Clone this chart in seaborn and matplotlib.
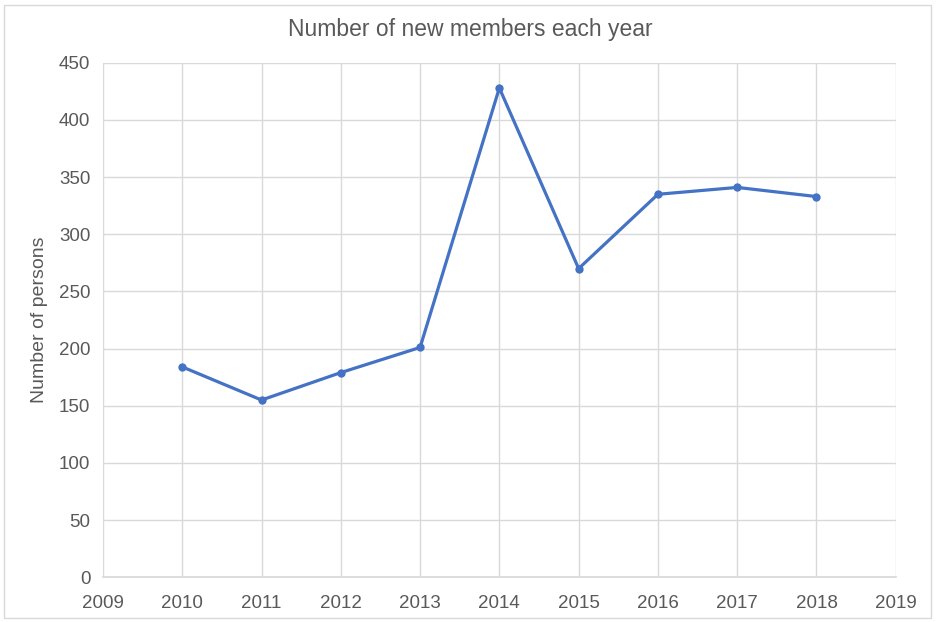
import matplotlib.pyplot as plt
import pandas as pd
import seaborn as sns
from matplotlib.patches import Rectangle

years = [2010, 2011, 2012, 2013, 2014, 2015, 2016, 2017, 2018]
new_members = [184, 155, 179, 201, 428, 270, 335, 341, 333]
x_ticks = list(range(2009, 2020))
y_ticks = list(range(0, 451, 50))

df = pd.DataFrame({"year": years, "members": new_members})

sns.set_theme(style="whitegrid")
plt.rcParams["font.family"] = ["Liberation Sans", "DejaVu Sans"]

fig = plt.figure(figsize=(9.36, 6.22), dpi=100)
ax = fig.add_axes([0.110, 0.072, 0.847, 0.827])

sns.lineplot(data=df, x="year", y="members", ax=ax, color="#4472C4",
             linewidth=2.3, marker="o", markersize=6, markeredgewidth=0)

ax.set_xlim(2009, 2019)
ax.set_ylim(0, 450)
ax.set_xticks(x_ticks)
ax.set_yticks(y_ticks)
ax.set_xticklabels([str(t) for t in x_ticks])
ax.grid(True, color="#d9d9d9", linewidth=1.0)
for side in ["top", "right", "left"]:
    ax.spines[side].set_visible(False)
ax.spines["bottom"].set_color("#d9d9d9")
ax.tick_params(axis="both", colors="#595959", labelsize=13.5, length=0)
ax.tick_params(axis="x", pad=13)
ax.tick_params(axis="y", pad=9)

ax.set_xlabel("")
ax.set_ylabel("Number of persons", color="#595959", fontsize=14, labelpad=8)
fig.text(0.503, 0.952, "Number of new members each year", color="#595959",
         fontsize=16.5, ha="center", va="center")

fig.patches.append(Rectangle((4 / 936, 4 / 622), 927 / 936, 613 / 622, transform=fig.transFigure,
                             fill=False, edgecolor="#d9d9d9", linewidth=1))

fig.savefig("out.png", dpi=100)
plt.close(fig)
